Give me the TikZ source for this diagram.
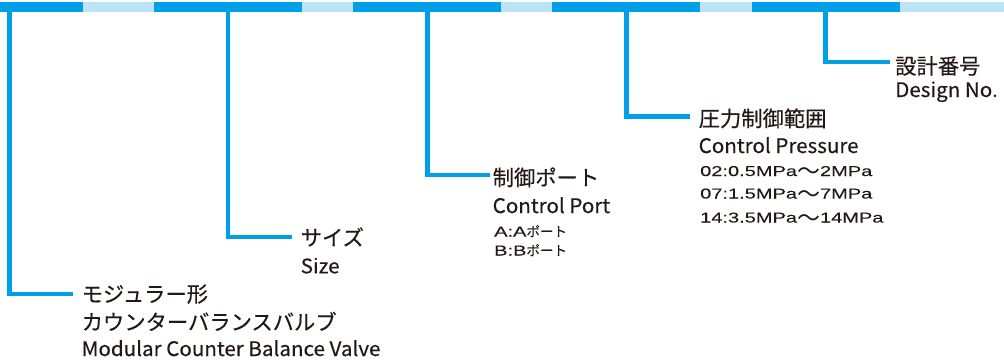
\documentclass[tikz,border=0pt]{standalone}
\usepackage{fontspec}
\setmainfont{Noto Sans CJK JP}[FakeBold=0.35]
\newfontfamily\enfont[FakeStretch=1.03, FakeBold=0.35]{Noto Sans CJK JP}
\newfontfamily\numfont[FakeStretch=1.4, FakeBold=0.3]{Liberation Sans}
\newfontfamily\wavefont{Noto Sans CJK JP}
\newcommand\nm[1]{{\numfont\fontsize{14.3}{16}\selectfont #1}}
\newcommand\wave{\raisebox{-3.5pt}{\wavefont\fontsize{23}{16}\selectfont ～}}
\usetikzlibrary{positioning}

\definecolor{barblue}{HTML}{00A0E9}
\definecolor{barlight}{HTML}{BDE3F8}
\definecolor{txt}{HTML}{231815}

\tikzset{
    conn/.style={draw=barblue, line width=4.5pt, shorten >=8.5pt},
    jptitle/.style={anchor=base west, inner sep=0pt, text=txt, font=\fontsize{21.3}{24}\selectfont},
    entitle/.style={anchor=base west, inner sep=0pt, text=txt, font=\enfont\fontsize{20}{24}\selectfont},
    note/.style={anchor=base west, inner sep=0pt, text=txt, font=\fontsize{13.5}{16}\selectfont},
}

\begin{document}
\begin{tikzpicture}[x=1pt, y=-1pt]
    \useasboundingbox (0,0) rectangle (1004,362);

    % Code bar
    \fill[barlight] (0,2) rectangle (1004,12);
    \foreach \a/\b in {0/83,154/302,353/501,552/700,752/900} {
        \fill[barblue] (\a,2) rectangle (\b,12);
    }

    % drop points under the bar
    \coordinate (p1) at (9.5,11);
    \coordinate (p2) at (228,11);
    \coordinate (p3) at (427.5,11);
    \coordinate (p4) at (626.5,11);
    \coordinate (p5) at (825.7,11);

    % Model
    \node[jptitle] (jp1) at (81.5,302) {モジュラー形};
    \node[jptitle] (jp1b) at (81.5,330) {カウンターバランスバルブ};
    \node[entitle] (en1) at (81.5,356) {Modular Counter Balance Valve};

    % Size
    \node[jptitle] (jp2) at (300.5,245.5) {サイズ};
    \node[entitle] (en2) at (300.5,273.3) {Size};

    % Control port
    \node[jptitle] (jp3) at (492.5,185.5) {制御ポート};
    \node[entitle] (en3) at (492.5,213) {Control Port};
    \node[note] (pa) at (494,236.5) {\nm{A:A}ポート};
    \node[note] (pb) at (494,255.5) {\nm{B:B}ポート};

    % Control pressure
    \node[jptitle] (jp4) at (698.5,126.5) {圧力制御範囲};
    \node[entitle] (en4) at (698.5,153) {Control Pressure};
    \node[note] (r02) at (700,176) {\nm{02:0.5MPa}\wave\nm{2MPa}};
    \node[note] (r07) at (700,198.5) {\nm{07:1.5MPa}\wave\nm{7MPa}};
    \node[note] (r14) at (700,222.5) {\nm{14:3.5MPa}\wave\nm{14MPa}};

    % Design number
    \node[jptitle] (jp5) at (895,74) {設計番号};
    \node[entitle] (en5) at (895,97) {Design No.};

    % Leaders
    \draw[conn] (p1) |- (jp1.west);
    \draw[conn] (p2) |- (jp2.west);
    \draw[conn, shorten >=2.5pt] (p3) |- ([yshift=2.5pt]jp3.west);
    \draw[conn] (p4) |- ([yshift=2pt]jp4.west);
    \draw[conn, shorten >=5pt] (p5) |- ([yshift=4pt]jp5.west);
\end{tikzpicture}
\end{document}
